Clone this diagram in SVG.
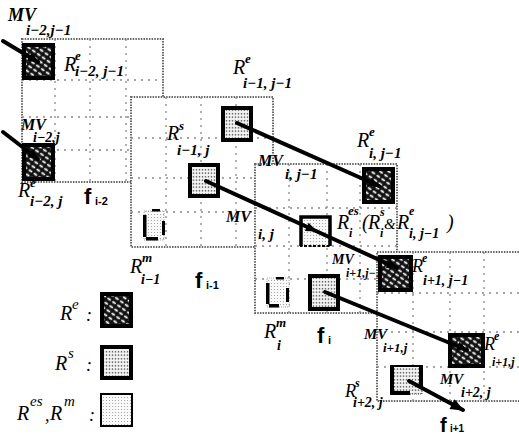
<svg xmlns="http://www.w3.org/2000/svg" width="519" height="436" viewBox="0 0 519 436">
<style>
.bg{fill:#fff}
.frame{fill:#fff;stroke:#666;stroke-width:2;stroke-dasharray:1.5 1.2}
.grid{stroke:#888;stroke-width:1.3;stroke-dasharray:2 5;fill:none}
.be{fill:url(#hatchE);stroke:#000;stroke-width:4}
.bs{fill:url(#dotS);stroke:#000;stroke-width:4}
.bm{fill:url(#dotM);stroke:#000;stroke-width:2}
.bar{fill:#000}
.t{font-family:"Liberation Serif",serif;font-style:italic;fill:#000}
.b{font-weight:bold}
.mv{font-family:"Liberation Serif",serif;font-style:italic;font-weight:bold;fill:#000}
.f{font-family:"Liberation Sans",sans-serif;font-weight:bold;fill:#000}
.conn{stroke:#000;stroke-width:4;fill:none;stroke-linecap:round}
</style>
<defs>
<pattern id="hatchE" width="6" height="5" patternUnits="userSpaceOnUse" patternTransform="rotate(35)">
<rect width="6" height="5" fill="#111"/>
<ellipse cx="3" cy="2.5" rx="2.3" ry="1.1" fill="#fff"/>
</pattern>
<pattern id="dotS" width="3" height="3.5" patternUnits="userSpaceOnUse">
<rect width="3" height="3.5" fill="#f4f4f4"/>
<circle cx="1.5" cy="1.7" r="0.8" fill="#555"/>
</pattern>
<pattern id="dotM" width="3" height="3" patternUnits="userSpaceOnUse">
<rect width="3" height="3" fill="#fafafa"/>
<circle cx="1.5" cy="1.5" r="0.6" fill="#999"/>
</pattern>
<marker id="ah" viewBox="0 0 10 8" refX="9" refY="4" markerWidth="12" markerHeight="9" markerUnits="userSpaceOnUse" orient="auto">
<path d="M0,0 L10,4 L0,8 z" fill="#000"/>
</marker>
<marker id="ahBig" viewBox="0 0 10 8" refX="9" refY="4" markerWidth="15" markerHeight="11" markerUnits="userSpaceOnUse" orient="auto">
<path d="M0,0 L10,4 L0,8 z" fill="#000"/>
</marker>
</defs>
<rect class="bg" x="0" y="0" width="519" height="436"/>

<g id="frame-i-2">
<rect class="frame" x="22" y="39" width="141" height="143"/>
<path class="grid" d="M55,39V182 M90,39V182 M126,39V182 M22,80H163 M22,117H163 M22,150H163"/>
<rect class="be" x="24" y="45" width="29" height="33"/>
<rect class="be" x="24" y="145" width="29" height="34"/>
</g>

<g id="frame-i-1">
<rect class="frame" x="131" y="97" width="142" height="150"/>
<path class="grid" d="M166,97V247 M201,97V247 M236,97V247 M131,138H273 M131,178H273 M131,212H273"/>
<rect class="bs" x="223" y="108" width="28" height="32"/>
<rect class="bs" x="190" y="165" width="28" height="31"/>
<rect x="144" y="211" width="20" height="29" fill="url(#dotM)" stroke="#aaa" stroke-width="1" stroke-dasharray="1 1"/>
<rect class="bar" x="143" y="215" width="3.5" height="22"/>
<rect class="bar" x="146" y="237" width="12" height="3.5"/>
<rect class="bar" x="152" y="209" width="8" height="2.5"/>
<rect class="bar" x="162" y="221" width="3" height="14"/>
</g>

<g id="frame-i">
<rect class="frame" x="255" y="164" width="142" height="149"/>
<path class="grid" d="M289,164V313 M327,164V313 M360,164V313 M255,208H397 M255,246H397 M255,279H397"/>
<rect class="be" x="364" y="169" width="29" height="33"/>
<rect x="301" y="217" width="29" height="29" fill="url(#dotM)" stroke="#000" stroke-width="2" stroke-dasharray="3 1.5"/>
<path d="M301,246V217H330V246" fill="none" stroke="#000" stroke-width="3.5"/>
<rect class="bs" x="310" y="276" width="28" height="33"/>
<rect x="267" y="278" width="22" height="29" fill="url(#dotM)" stroke="#aaa" stroke-width="1" stroke-dasharray="1 1"/>
<rect class="bar" x="266" y="283" width="3.5" height="21"/>
<rect class="bar" x="269" y="304" width="10" height="3.5"/>
<rect class="bar" x="276" y="277" width="8" height="2.5"/>
<rect class="bar" x="286" y="288" width="3" height="14"/>
</g>

<g id="frame-i+1">
<rect class="frame" x="377" y="252" width="152" height="149"/>
<path class="grid" d="M413,252V401 M450,252V401 M484,252V401 M377,293H519 M377,332H519 M377,367H519"/>
<rect class="be" x="380" y="257" width="31" height="33"/>
<rect class="be" x="450" y="335" width="33" height="31"/>
<rect x="391" y="366" width="31" height="28" fill="url(#dotS)" stroke="#555" stroke-width="1" stroke-dasharray="1 1"/>
<rect class="bar" x="390" y="365" width="4" height="30"/>
<rect class="bar" x="390" y="391" width="20" height="4"/>
<rect class="bar" x="419" y="366" width="4" height="22"/>
<rect class="bar" x="394" y="365" width="29" height="2"/>
</g>

<g id="labels-frame-i-2">
<text class="mv" x="8" y="21" font-size="18">MV</text>
<text class="t b" x="26" y="35" font-size="15">i−2,j−1</text>
<text class="t" x="64" y="71" font-size="20">R</text>
<text class="t b" x="75" y="60" font-size="13">e</text>
<text class="t b" x="75" y="76" font-size="15">i−2, j−1</text>
<text class="mv" x="21" y="130" font-size="16">MV</text>
<text class="t b" x="33" y="142" font-size="14">i−2,j</text>
<text class="t" x="18" y="197" font-size="20">R</text>
<text class="t b" x="30" y="187" font-size="13">e</text>
<text class="t b" x="30" y="206" font-size="15">i−2, j</text>
<text class="f" x="84" y="204" font-size="22">f</text>
<text class="f" x="95" y="205" font-size="11">i-2</text>
</g>

<g id="labels-frame-i-1">
<text class="t" x="233" y="74" font-size="20">R</text>
<text class="t b" x="245" y="63" font-size="13">e</text>
<text class="t b" x="243" y="88" font-size="15">i−1, j−1</text>
<text class="t" x="167" y="140" font-size="20">R</text>
<text class="t b" x="179" y="130" font-size="13">s</text>
<text class="t b" x="177" y="155" font-size="15">i−1, j</text>
<text class="t" x="130" y="273" font-size="20">R</text>
<text class="t b" x="142" y="262" font-size="13">m</text>
<text class="t b" x="141" y="284" font-size="14">i−1</text>
<text class="f" x="195" y="288" font-size="22">f</text>
<text class="f" x="206" y="289" font-size="11">i-1</text>
</g>

<g id="labels-frame-i">
<text class="mv" x="258" y="166" font-size="16">MV</text>
<text class="t b" x="285" y="179" font-size="15">i, j−1</text>
<text class="mv" x="226" y="222" font-size="16">MV</text>
<text class="t b" x="258" y="239" font-size="15">i, j</text>
<text class="t" x="357" y="147" font-size="20">R</text>
<text class="t b" x="369" y="136" font-size="13">e</text>
<text class="t b" x="369" y="158" font-size="15">i, j−1</text>
<text class="t" x="337" y="229" font-size="20">R</text>
<text class="t b" x="348" y="215" font-size="13">es</text>
<text class="t b" x="349" y="237" font-size="12">i</text>
<text class="t" x="362" y="229" font-size="20">(</text>
<text class="t" x="368" y="229" font-size="20">R</text>
<text class="t b" x="380" y="216" font-size="12">s</text>
<text class="t b" x="380" y="237" font-size="12">i</text>
<text class="t" x="384" y="229" font-size="15">&amp;</text>
<text class="t" x="397" y="229" font-size="20">R</text>
<text class="t b" x="409" y="215" font-size="12">e</text>
<text class="t b" x="409" y="238" font-size="14">i, j−1</text>
<text class="t" x="447" y="229" font-size="20">)</text>
<text class="mv" x="332" y="264" font-size="14">MV</text>
<text class="t b" x="346" y="277" font-size="12">i+1,j−1</text>
<text class="t" x="264" y="338" font-size="20">R</text>
<text class="t b" x="276" y="327" font-size="13">m</text>
<text class="t b" x="277" y="350" font-size="14">i</text>
<text class="f" x="317" y="343" font-size="22">f</text>
<text class="f" x="328" y="344" font-size="11">i</text>
</g>

<g id="labels-frame-i+1">
<text class="t" x="412" y="272" font-size="18">R</text>
<text class="t b" x="422" y="262" font-size="12">e</text>
<text class="t b" x="423" y="285" font-size="14">i+1, j−1</text>
<text class="mv" x="364" y="339" font-size="15">MV</text>
<text class="t b" x="383" y="352" font-size="13">i+1,j</text>
<text class="t" x="484" y="350" font-size="18">R</text>
<text class="t b" x="494" y="340" font-size="12">e</text>
<text class="t b" x="492" y="366" font-size="12">i+1,j</text>
<text class="mv" x="440" y="384" font-size="15">MV</text>
<text class="t b" x="461" y="397" font-size="14">i+2, j</text>
<text class="t" x="345" y="397" font-size="18">R</text>
<text class="t b" x="355" y="387" font-size="12">s</text>
<text class="t b" x="353" y="407" font-size="14">i+2, j</text>
<text class="f" x="440" y="432" font-size="20">f</text>
<text class="f" x="450" y="432" font-size="10">i+1</text>
</g>

<g id="legend">
<text class="t" x="60" y="320" font-size="20">R</text>
<text class="t" x="72" y="309" font-size="15">e</text>
<text class="t" x="86" y="321" font-size="18">:</text>
<rect class="be" x="102" y="294" width="29" height="32"/>
<text class="t" x="55" y="370" font-size="20">R</text>
<text class="t" x="68" y="358" font-size="15">s</text>
<text class="t" x="86" y="371" font-size="18">:</text>
<rect class="bs" x="102" y="347" width="29" height="31"/>
<text class="t" x="17" y="420" font-size="20">R</text>
<text class="t" x="30" y="406" font-size="15">es</text>
<text class="t" x="45" y="421" font-size="18">,</text>
<text class="t" x="50" y="420" font-size="20">R</text>
<text class="t" x="64" y="406" font-size="15">m</text>
<text class="t" x="89" y="421" font-size="18">:</text>
<rect class="bm" x="101" y="394" width="31" height="32"/>
</g>

<g id="connectors">
<line class="conn" x1="3" y1="41" x2="38" y2="62" marker-end="url(#ah)"/>
<line class="conn" x1="3" y1="132" x2="38" y2="159" marker-end="url(#ah)"/>
<line class="conn" x1="237" y1="123" x2="379" y2="186" marker-end="url(#ah)"/>
<path class="conn" d="M206,181 L316,231 L397,268" marker-mid="url(#ah)" marker-end="url(#ah)"/>
<line class="conn" x1="325" y1="292" x2="467" y2="350" marker-end="url(#ah)"/>
<line class="conn" x1="409" y1="381" x2="463" y2="410" marker-end="url(#ahBig)"/>
</g>
</svg>
